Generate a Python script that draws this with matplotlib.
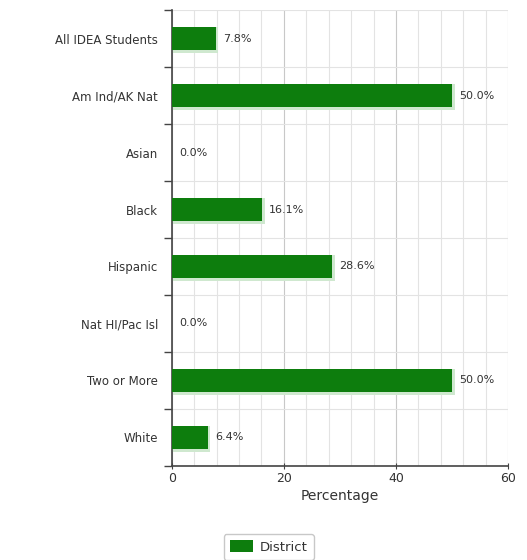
import matplotlib
matplotlib.use("Agg")
import matplotlib.pyplot as plt
from matplotlib.ticker import MultipleLocator
import numpy as np

categories = ["All IDEA Students", "Am Ind/AK Nat", "Asian", "Black",
              "Hispanic", "Nat HI/Pac Isl", "Two or More", "White"]
district = [7.8, 50.0, 0.0, 16.1, 28.6, 0.0, 50.0, 6.4]
x_ticks = [0, 20, 40, 60]

bar_green = "#0d7d0d"
text_gray = "#333333"

fig = plt.figure(figsize=(5.27, 5.6), dpi=100)
ax = fig.add_axes([0.326, 0.168, 0.638, 0.814])

y = np.arange(len(categories))
# soft shadow behind each bar
ax.barh(y + 0.03, [v + 0.5 if v > 0 else 0 for v in district], height=0.46,
        left=0, color="#cfe8cf", zorder=2)
bars = ax.barh(y, district, height=0.4, color=bar_green, zorder=3)

for yi, v in zip(y, district):
    ax.text(v + 1.3, yi, f"{v:.1f}%", va="center", ha="left",
            fontsize=8, color=text_gray, zorder=4)

ax.set_xlim(0, 60)
ax.set_ylim(len(categories) - 0.5, -0.5)
ax.set_xticks(x_ticks)
ax.xaxis.set_minor_locator(MultipleLocator(4))
ax.set_yticks(y)
ax.set_yticklabels(categories)
ax.set_yticks(np.arange(-0.5, len(categories), 1), minor=True)

ax.grid(which="minor", axis="x", color="#e3e3e3", linewidth=0.8, zorder=0)
ax.grid(which="major", axis="x", color="#c8c8c8", linewidth=0.8, zorder=0)
ax.grid(which="minor", axis="y", color="#e3e3e3", linewidth=0.8, zorder=0)

ax.tick_params(axis="y", which="major", length=0, pad=10,
               labelsize=8.5, labelcolor=text_gray)
ax.tick_params(axis="y", which="minor", length=6, direction="out",
               color="#444444", width=1)
ax.tick_params(axis="x", which="major", length=5, direction="inout",
               color="#444444", labelsize=9, labelcolor=text_gray, pad=2)
ax.tick_params(axis="x", which="minor", length=0)

for side in ["top", "right"]:
    ax.spines[side].set_visible(False)
ax.spines["left"].set_color("#444444")
ax.spines["bottom"].set_color("#444444")
ax.spines["left"].set_linewidth(1.2)
ax.spines["bottom"].set_linewidth(1.2)

ax.set_xlabel("Percentage", fontsize=10, color=text_gray, labelpad=3)

leg = fig.legend([bars], ["District"], loc="lower center",
                 bbox_to_anchor=(0.51, -0.004), fontsize=9.5,
                 frameon=True, fancybox=True, handlelength=1.8,
                 handleheight=1.0, handletextpad=0.5, borderpad=0.45,
                 borderaxespad=0.2)
leg.get_frame().set_edgecolor("#bbbbbb")
for t in leg.get_texts():
    t.set_color(text_gray)

fig.savefig("out.png", dpi=100)
